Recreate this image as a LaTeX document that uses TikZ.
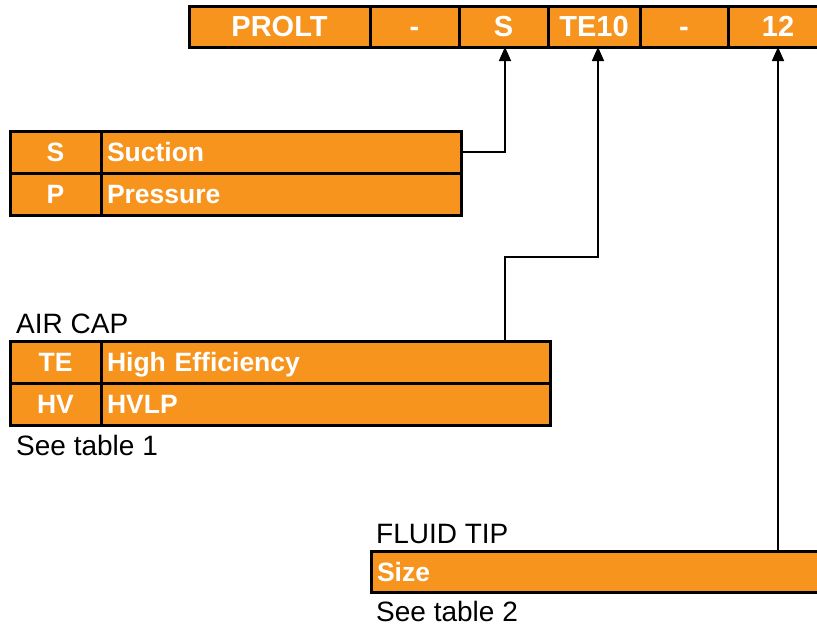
\documentclass[tikz,border=0pt]{standalone}
\usepackage{fontspec}
\setmainfont{Liberation Sans}
\usetikzlibrary{positioning,arrows.meta}
\definecolor{codeorange}{RGB}{247,148,30}

\tikzset{
  box/.style={draw, line width=3pt, fill=codeorange, text=white,
    inner sep=0pt, outer sep=0pt, text depth=0pt},
  barcell/.style={box, minimum height=41pt, text height=20.8pt,
    font=\bfseries\fontsize{29}{29}\selectfont},
  keycell/.style={box, minimum width=91pt, minimum height=42pt, text height=19pt,
    font=\bfseries\fontsize{26.5}{26.5}\selectfont},
  desccell/.style={box, minimum height=42pt, inner xsep=6pt, align=left, text height=19pt,
    font=\bfseries\fontsize{26.5}{26.5}\selectfont},
  note/.style={inner sep=0pt, anchor=west, text height=20pt, text depth=0pt,
    font=\fontsize{28}{28}\selectfont},
  conn/.style={line width=1.6pt, -{Triangle[width=12pt,length=14pt]}},
}

\begin{document}
\begin{tikzpicture}[x=1pt,y=-1pt]
  \useasboundingbox (0,0) rectangle (817,629);

  % model code
  \node[barcell, minimum width=181pt] (prolt) at (279.5,26.5) {PROLT};
  \node[barcell, minimum width=89pt, right=0pt of prolt] (dash1) {-};
  \node[barcell, minimum width=89pt, right=0pt of dash1] (suct) {S};
  \node[barcell, minimum width=92pt, right=0pt of suct] (cap) {TE10};
  \node[barcell, minimum width=88pt, right=0pt of cap] (dash2) {-};
  \node[barcell, minimum width=100pt, right=0pt of dash2] (tip) {12};

  % feed
  \node[keycell] (s) at (55.5,152) {S};
  \node[desccell, text width=348pt, right=0pt of s] (suction) {Suction};
  \node[keycell, below=0pt of s] (p) {P};
  \node[desccell, text width=348pt, below=0pt of suction] (pressure) {Pressure};

  % air cap
  \node[note] (aircap) at (16,323) {AIR CAP};
  \node[keycell] (te) at (55.5,362) {TE};
  \node[desccell, text width=437pt, right=0pt of te] (hieff) {High Efficiency};
  \node[keycell, below=0pt of te] (hv) {HV};
  \node[desccell, text width=437pt, below=0pt of hieff] (hvlp) {HVLP};
  \node[note] (table1) at (16,445) {See table 1};

  % fluid tip
  \node[note] (fluidtip) at (376,533) {FLUID TIP};
  \node[desccell, text width=443pt, minimum height=41pt] (size) at (598.5,571.5) {Size};
  \node[note] (table2) at (376,611) {See table 2};

  \draw[conn] (suction.east) -| ([xshift=1.5pt]suct.south);
  \draw[conn] ([xshift=1.5pt]suct.south |- hieff.north) -- ++(0,-84) -| ([xshift=4pt]cap.south);
  \draw[conn] (tip.south |- size.north) -- (tip.south);
\end{tikzpicture}
\end{document}
